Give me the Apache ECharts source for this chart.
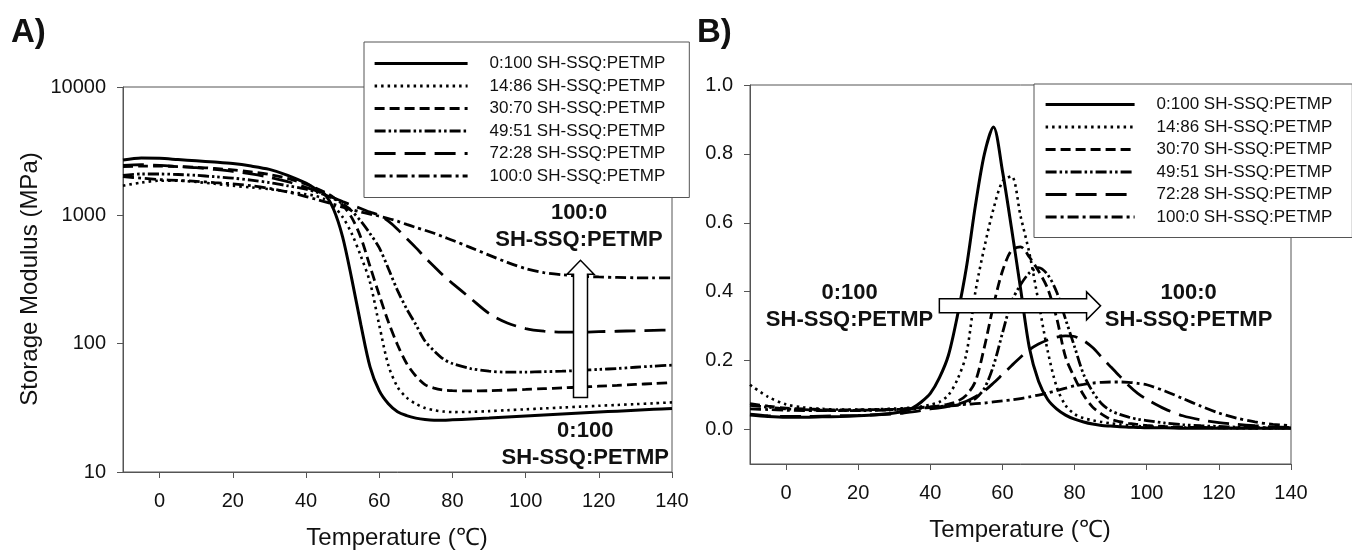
<!DOCTYPE html>
<html><head><meta charset="utf-8">
<script src="https://cdn.jsdelivr.net/npm/echarts@6/dist/echarts.min.js"></script>
<style>html,body{margin:0;padding:0;background:#fff}#c{width:1352px;height:554px}</style>
</head><body><div id="c"></div>
<script>
// ---------- data ----------
const seriesNames = ['0:100 SH-SSQ:PETMP','14:86 SH-SSQ:PETMP','30:70 SH-SSQ:PETMP','49:51 SH-SSQ:PETMP','72:28 SH-SSQ:PETMP','100:0 SH-SSQ:PETMP'];
const xTicks = [0,20,40,60,80,100,120,140];
const yTicksB = [0,0.2,0.4,0.6,0.8,1.0];

// Panel A: storage modulus (MPa) vs temperature (°C)
const tempA = [-10,-5,0,5,10,15,20,25,30,35,40,42.5,45,47.5,50,52.5,55,57.5,60,62.5,65,67.5,70,72.5,75,77.5,80,85,90,95,100,105,110,115,120,125,130,135,140];
const modA_0_100  = [2700,2800,2780,2720,2660,2600,2530,2420,2280,2050,1780,1620,1470,1120,680,320,140,66,43,34,29.5,27.5,26.3,25.6,25.3,25.3,25.5,25.9,26.3,26.8,27.3,27.8,28.3,28.8,29.3,29.8,30.3,30.8,31.3];
const modA_14_86  = [1700,1800,1860,1860,1820,1760,1700,1650,1600,1530,1460,1420,1340,1180,970,720,480,300,140,68,46,38,34,31.5,30.3,29.6,29.3,29.4,29.8,30.3,30.8,31.3,31.8,32.3,32.8,33.3,33.8,34.3,34.9];
const modA_30_70  = [2400,2420,2420,2400,2370,2320,2260,2180,2080,1940,1750,1640,1520,1380,1200,960,670,400,240,148,98,70,56,48,45,43.5,43,42.8,43,43.5,44,44.6,45.2,45.9,46.6,47.3,48.1,48.9,49.8];
const modA_49_51  = [2050,2100,2100,2080,2050,2000,1950,1880,1800,1700,1600,1530,1450,1350,1230,1080,900,720,560,385,260,187,141,105,88,76,70,64,61,60,60,60.5,61,62,63,64,65.5,66.8,68];
const modA_72_28  = [2450,2480,2450,2400,2350,2280,2200,2100,1980,1830,1650,1560,1460,1370,1280,1200,1130,1060,1000,900,780,660,560,470,400,340,295,225,172,145,131,125,123,123,124,125,126,127,128];
const modA_100_0  = [2000,1950,1900,1870,1840,1800,1760,1700,1620,1520,1400,1340,1280,1220,1160,1110,1060,1020,985,945,900,850,805,765,725,680,640,560,490,430,385,358,344,336,331,328,326,325,325];

// Panel B: tan delta vs temperature (°C)
const tempB = [-10,-5,0,5,10,15,20,25,30,32.5,35,37.5,40,42.5,45,47.5,50,52.5,55,57.5,60,62.5,65,67.5,70,72.5,75,77.5,80,82.5,85,87.5,90,92.5,95,97.5,100,105,110,115,120,125,130,135,140];
const tanB_0_100 = [0.042,0.038,0.036,0.036,0.037,0.038,0.040,0.043,0.048,0.053,0.062,0.080,0.105,0.150,0.215,0.330,0.470,0.650,0.800,0.878,0.750,0.585,0.410,0.235,0.140,0.088,0.060,0.042,0.030,0.022,0.016,0.012,0.010,0.008,0.007,0.006,0.005,0.005,0.004,0.004,0.004,0.004,0.004,0.004,0.004];
const tanB_14_86 = [0.130,0.095,0.073,0.064,0.060,0.058,0.058,0.059,0.061,0.062,0.064,0.067,0.072,0.080,0.100,0.145,0.220,0.400,0.530,0.640,0.720,0.735,0.620,0.510,0.370,0.230,0.125,0.070,0.045,0.033,0.027,0.022,0.018,0.015,0.012,0.010,0.009,0.007,0.006,0.005,0.005,0.004,0.004,0.004,0.004];
const tanB_30_70 = [0.075,0.068,0.062,0.060,0.058,0.057,0.057,0.058,0.059,0.060,0.062,0.064,0.066,0.069,0.074,0.082,0.100,0.140,0.240,0.360,0.460,0.520,0.530,0.500,0.460,0.410,0.325,0.210,0.150,0.100,0.065,0.045,0.030,0.023,0.018,0.015,0.012,0.009,0.007,0.006,0.005,0.005,0.004,0.004,0.004];
const tanB_49_51 = [0.070,0.065,0.060,0.058,0.056,0.055,0.055,0.056,0.057,0.058,0.060,0.062,0.064,0.066,0.068,0.071,0.078,0.090,0.120,0.185,0.280,0.370,0.420,0.455,0.470,0.450,0.400,0.320,0.240,0.160,0.110,0.075,0.055,0.044,0.036,0.030,0.026,0.019,0.014,0.011,0.009,0.007,0.006,0.005,0.005];
const tanB_72_28 = [0.045,0.040,0.038,0.038,0.039,0.040,0.041,0.043,0.045,0.048,0.051,0.055,0.060,0.063,0.067,0.073,0.082,0.095,0.112,0.135,0.160,0.185,0.210,0.232,0.248,0.260,0.268,0.272,0.270,0.258,0.238,0.210,0.182,0.155,0.128,0.105,0.088,0.060,0.040,0.028,0.020,0.015,0.011,0.008,0.006];
const tanB_100_0 = [0.060,0.058,0.056,0.055,0.055,0.055,0.056,0.057,0.058,0.059,0.061,0.063,0.065,0.067,0.069,0.071,0.073,0.075,0.077,0.080,0.083,0.086,0.090,0.095,0.100,0.106,0.113,0.120,0.127,0.131,0.135,0.137,0.138,0.138,0.137,0.134,0.130,0.112,0.090,0.068,0.048,0.033,0.022,0.015,0.011];

// ---------- styles ----------
const FONT = "'Liberation Sans', Arial, Helvetica, sans-serif";
const lineStyles = [
  {type:'solid', width:3},
  {type:[2.5,4], width:2.6},
  {type:[10,5], width:2.8},
  {type:[11,3,2.5,3,2.5,3], width:2.8},
  {type:[21,9], width:2.8},
  {type:[11,4,3,4], width:2.8}
];
const seriesA = [modA_0_100, modA_14_86, modA_30_70, modA_49_51, modA_72_28, modA_100_0];
const seriesB = [tanB_0_100, tanB_14_86, tanB_30_70, tanB_49_51, tanB_72_28, tanB_100_0];

const chart = echarts.init(document.getElementById('c'), null, {renderer:'canvas'});
const AX = '#555';

function xAxisCfg(gi){
  return {gridIndex:gi, type:'value', min:-10, max:140,
    axisLine:{onZero:false, lineStyle:{color:AX, width:1}},
    axisTick:{customValues:xTicks, length:6, lineStyle:{color:AX}},
    axisLabel:{customValues:xTicks, margin:19, fontSize:20, color:'#111', fontFamily:FONT},
    splitLine:{show:false}};
}
const series = [];
seriesNames.forEach((n,i)=>{
  series.push({name:n, type:'line', xAxisIndex:0, yAxisIndex:0, symbol:'none', smooth:0.3,
    color:'#000', lineStyle:Object.assign({color:'#000', cap:'butt'}, lineStyles[i]),
    data: tempA.map((t,k)=>[t, seriesA[i][k]]), z:3});
});
seriesNames.forEach((n,i)=>{
  series.push({name:n, type:'line', xAxisIndex:1, yAxisIndex:1, symbol:'none', smooth:0.3,
    color:'#000', lineStyle:Object.assign({color:'#000', cap:'butt'}, lineStyles[i]),
    data: tempB.map((t,k)=>[t, seriesB[i][k]]), z:3});
});
const legendCommon = {orient:'vertical', backgroundColor:'#fff', borderColor:'#555', borderWidth:1,
  itemHeight:14, itemGap:5.5, selectedMode:false, data:seriesNames, z:10,
  itemStyle:{opacity:0, borderWidth:0},
  lineStyle:{width:3.2},
  textStyle:{fontSize:17, lineHeight:17, color:'#111', fontFamily:FONT, padding:[0,0,0,17]}};

chart.setOption({
  animation:false,
  backgroundColor:'#fff',
  grid:[
    {left:123, top:87, width:549, height:385, show:true, borderColor:AX, borderWidth:1, backgroundColor:'transparent'},
    {left:750, top:85, width:541, height:379, show:true, borderColor:AX, borderWidth:1, backgroundColor:'transparent'}
  ],
  xAxis:[xAxisCfg(0), xAxisCfg(1)],
  yAxis:[
    {gridIndex:0, type:'log', logBase:10, min:10, max:10000,
     axisLine:{onZero:false, lineStyle:{color:AX}}, axisTick:{length:6, lineStyle:{color:AX}},
     minorTick:{show:false}, splitLine:{show:false},
     axisLabel:{margin:17, fontSize:20, color:'#111', fontFamily:FONT, formatter:v=>String(Math.round(v))}},
    {gridIndex:1, type:'value', min:-0.1, max:1.0,
     axisLine:{onZero:false, lineStyle:{color:AX}}, axisTick:{customValues:yTicksB, length:6, lineStyle:{color:AX}},
     splitLine:{show:false},
     axisLabel:{customValues:yTicksB, margin:17, fontSize:20, color:'#111', fontFamily:FONT, formatter:v=>v.toFixed(1)}}
  ],
  legend:[
    Object.assign({}, legendCommon, {left:364, top:42, itemWidth:93, padding:[13,24,13,9]}),
    Object.assign({}, legendCommon, {left:1034, top:84, itemWidth:89, padding:[12,20,12,10]})
  ],
  series: series
});

// ---------- annotations (anchored in data coordinates) ----------
const arrowA = {x:115, yBase:38, yTip:446};        // vertical arrow in panel A (MPa)
const arrowB = {y:0.359, xBase:42.5, xTip:87.2};   // horizontal arrow in panel B
const labelsA = [{x:114.6, y:820, text:'100:0\nSH-SSQ:PETMP'}, {x:116.3, y:16.4, text:'0:100\nSH-SSQ:PETMP'}];
const labelsB = [{x:17.6, y:0.356, text:'0:100\nSH-SSQ:PETMP'}, {x:111.6, y:0.356, text:'100:0\nSH-SSQ:PETMP'}];

const pA = (x,y)=>chart.convertToPixel({xAxisIndex:0, yAxisIndex:0}, [x,y]);
const pB = (x,y)=>chart.convertToPixel({xAxisIndex:1, yAxisIndex:1}, [x,y]);
const g = [];
{
  const b = pA(arrowA.x, arrowA.yBase), t = pA(arrowA.x, arrowA.yTip);
  const cx = b[0], sw = 7, hw = 13.5, hl = 14;
  g.push({type:'polygon', z:20, shape:{points:[[cx-sw,b[1]],[cx-sw,t[1]+hl],[cx-hw,t[1]+hl],[cx,t[1]],[cx+hw,t[1]+hl],[cx+sw,t[1]+hl],[cx+sw,b[1]]]},
    style:{fill:'#fff', stroke:'#000', lineWidth:1.5}});
}
{
  const b = pB(arrowB.xBase, arrowB.y), t = pB(arrowB.xTip, arrowB.y);
  const cy = b[1], sw = 7, hw = 14, hl = 14;
  g.push({type:'polygon', z:20, shape:{points:[[b[0],cy-sw],[t[0]-hl,cy-sw],[t[0]-hl,cy-hw],[t[0],cy],[t[0]-hl,cy+hw],[t[0]-hl,cy+sw],[b[0],cy+sw]]},
    style:{fill:'#fff', stroke:'#000', lineWidth:1.5}});
}
const annStyle = {fontSize:22, fontWeight:'bold', fontFamily:FONT, fill:'#111', align:'center', verticalAlign:'middle', lineHeight:27};
labelsA.forEach(l=>{const p=pA(l.x,l.y); g.push({type:'text', z:21, x:p[0], y:p[1], style:Object.assign({text:l.text}, annStyle)});});
labelsB.forEach(l=>{const p=pB(l.x,l.y); g.push({type:'text', z:21, x:p[0], y:p[1], style:Object.assign({text:l.text}, annStyle)});});
g.push({type:'text', z:21, x:11, y:16, style:{text:'A)', fontSize:33, fontWeight:'bold', fontFamily:FONT, fill:'#111'}});
g.push({type:'text', z:21, x:697, y:16, style:{text:'B)', fontSize:33, fontWeight:'bold', fontFamily:FONT, fill:'#111'}});
g.push({type:'text', z:21, x:30, y:279, rotation:Math.PI/2, style:{text:'Storage Modulus (MPa)', fontSize:24, fontFamily:FONT, fill:'#111', align:'center', verticalAlign:'middle'}});
g.push({type:'text', z:21, x:397, y:538, style:{text:'Temperature (℃)', fontSize:24, fontFamily:FONT, fill:'#111', align:'center', verticalAlign:'middle'}});
g.push({type:'text', z:21, x:1020, y:530, style:{text:'Temperature (℃)', fontSize:24, fontFamily:FONT, fill:'#111', align:'center', verticalAlign:'middle'}});
chart.setOption({graphic:g});
</script></body></html>
